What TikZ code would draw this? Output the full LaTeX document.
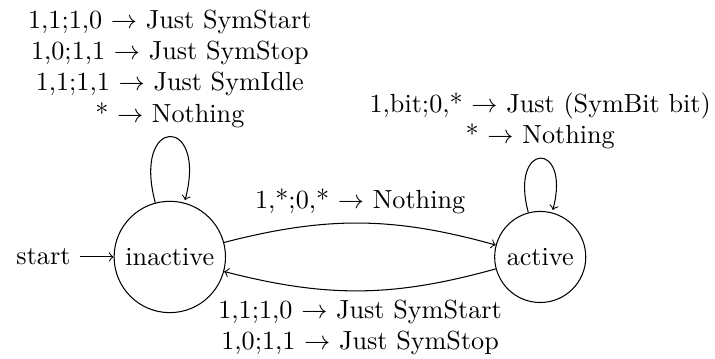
\documentclass[tikz,border=0pt]{standalone}
\usepackage{amsmath}
\usepackage{tikz}
\usetikzlibrary{automata,positioning}
\tikzset{
    tilstand/.style={
           state,
           draw=black},
    kant/.style={
           ->}
}

\begin{document}
\begin{tikzpicture}[node distance=3.6cm, auto,]
        \useasboundingbox (-2.28,-1.36) rectangle (7.32,3.45);
        \node[tilstand, initial] (inactive) at (0,0) {inactive};
        \node[tilstand, right=of inactive] (active) {active};
        \path[kant] (inactive) edge[loop above] node[align=center] {1,1;1,0 $\rightarrow$ Just SymStart\\
                 1,0;1,1 $\rightarrow$ Just SymStop\\
                 1,1;1,1 $\rightarrow$ Just SymIdle\\
                 * $\rightarrow$ Nothing} ();
        \path[kant] (active) edge[loop above] node[align=center] {1,bit;0,* $\rightarrow$ Just (SymBit bit)\\
                 * $\rightarrow$ Nothing} ();
        \draw[kant] (inactive) to[bend left=15] node {1,*;0,* $\rightarrow$ Nothing} (active);
        \draw[kant] (active) to[bend left=15] node[align=center] {1,1;1,0 $\rightarrow$ Just SymStart\\
                 1,0;1,1 $\rightarrow$ Just SymStop} (inactive);
    \end{tikzpicture}
\end{document}
